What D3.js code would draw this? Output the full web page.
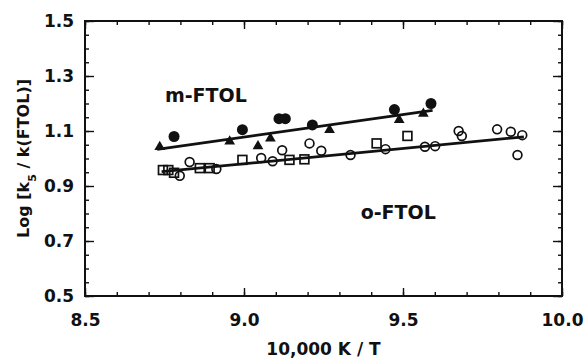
<!DOCTYPE html>
<html>
<head>
<meta charset="utf-8">
<script src="https://cdn.jsdelivr.net/npm/d3@7"></script>
<style>
  body { margin: 0; background: #fff; }
  text { font-family: "DejaVu Sans", sans-serif; font-weight: bold; fill: #111; }
</style>
</head>
<body>
<svg id="chart"></svg>
<script>
// values
const xTicks = [8.5, 9.0, 9.5, 10.0];
const yTicks = [0.5, 0.7, 0.9, 1.1, 1.3, 1.5];

// m-FTOL: filled circles and filled triangles
const mCircles = [[8.78, 1.08], [8.995, 1.105], [9.11, 1.145], [9.13, 1.145], [9.215, 1.122], [9.473, 1.178], [9.588, 1.2]];
const mTriangles = [[8.735, 1.042], [8.955, 1.062], [9.044, 1.045], [9.083, 1.073], [9.269, 1.104], [9.488, 1.14], [9.564, 1.163]];
const mFit = [[8.727, 1.033], [9.593, 1.175]];

// o-FTOL: open circles and open squares
const oCircles = [[8.798, 0.937], [8.829, 0.987], [8.913, 0.962], [9.054, 1.002], [9.09, 0.99], [9.12, 1.03], [9.206, 1.055],
  [9.243, 1.028], [9.335, 1.013], [9.445, 1.034], [9.569, 1.043], [9.601, 1.045], [9.675, 1.1], [9.685, 1.082],
  [9.796, 1.106], [9.839, 1.097], [9.875, 1.085], [9.86, 1.013]];
const oSquares = [[8.745, 0.958], [8.762, 0.958], [8.78, 0.948], [8.861, 0.965], [8.892, 0.965], [8.995, 0.995],
  [9.143, 0.995], [9.19, 0.997], [9.417, 1.055], [9.514, 1.082]];
const oFit = [[8.741, 0.952], [9.88, 1.079]];

const labels = [{ text: 'm-FTOL', x: 8.88, y: 1.205 }, { text: 'o-FTOL', x: 9.485, y: 0.78 }];

const width = 586;
const height = 360;

const svg = d3.select('#chart').attr('width', width).attr('height', height);

const x = d3.scaleLinear().domain([8.5, 10.0]).range([85, 562]);
const y = d3.scaleLinear().domain([0.5, 1.5]).range([296, 21]);

const ink = '#111';
const xMinor = d3.range(8.5, 10.001, 0.1);
const yMinor = d3.range(0.5, 1.501, 0.05);

// inward ticks on all four sides
function tickAxis(axis, pos, vals, size) {
  svg.append('g')
    .attr('transform', pos)
    .call(axis.tickValues(vals).tickSize(-size).tickFormat(''))
    .call(g => g.select('.domain').remove())
    .selectAll('line').attr('stroke', ink).attr('stroke-width', 1.4);
}
tickAxis(d3.axisBottom(x), `translate(0,${y(0.5)})`, xMinor, 4);
tickAxis(d3.axisBottom(x), `translate(0,${y(0.5)})`, xTicks, 8);
tickAxis(d3.axisTop(x), `translate(0,${y(1.5)})`, xMinor, 4);
tickAxis(d3.axisTop(x), `translate(0,${y(1.5)})`, xTicks, 8);
tickAxis(d3.axisLeft(y), `translate(${x(8.5)},0)`, yMinor, 4);
tickAxis(d3.axisLeft(y), `translate(${x(8.5)},0)`, yTicks, 9);
tickAxis(d3.axisRight(y), `translate(${x(10)},0)`, yMinor, 4);
tickAxis(d3.axisRight(y), `translate(${x(10)},0)`, yTicks, 9);

// tick labels
svg.append('g')
  .attr('transform', `translate(0,${y(0.5)})`)
  .call(d3.axisBottom(x).tickValues(xTicks).tickSize(0).tickPadding(18).tickFormat(d3.format('.1f')))
  .call(g => g.select('.domain').remove())
  .selectAll('text').style('font-size', '17px').style('font-family', '"DejaVu Sans", sans-serif').style('font-weight', 'bold').attr('fill', ink);

svg.append('g')
  .attr('transform', `translate(${x(8.5)},0)`)
  .call(d3.axisLeft(y).tickValues(yTicks).tickSize(0).tickPadding(11).tickFormat(d3.format('.1f')))
  .call(g => g.select('.domain').remove())
  .selectAll('text').style('font-size', '17px').style('font-family', '"DejaVu Sans", sans-serif').style('font-weight', 'bold').attr('fill', ink);

// frame
svg.append('rect')
  .attr('x', x(8.5)).attr('y', y(1.5))
  .attr('width', x(10) - x(8.5)).attr('height', y(0.5) - y(1.5))
  .attr('fill', 'none').attr('stroke', ink).attr('stroke-width', 2);

// fit lines
const line = d3.line().x(d => x(d[0])).y(d => y(d[1]));
[mFit, oFit].forEach(f => {
  svg.append('path').attr('d', line(f)).attr('fill', 'none').attr('stroke', ink).attr('stroke-width', 2.8);
});

// markers
svg.selectAll('.mcirc').data(mCircles).enter().append('circle')
  .attr('cx', d => x(d[0])).attr('cy', d => y(d[1])).attr('r', 5.5).attr('fill', ink);

svg.selectAll('.mtri').data(mTriangles).enter().append('path')
  .attr('d', d3.symbol(d3.symbolTriangle, 50))
  .attr('transform', d => `translate(${x(d[0])},${y(d[1])})`)
  .attr('fill', ink);

svg.selectAll('.ocirc').data(oCircles).enter().append('circle')
  .attr('cx', d => x(d[0])).attr('cy', d => y(d[1])).attr('r', 4.4)
  .attr('fill', 'none').attr('stroke', ink).attr('stroke-width', 1.7);

svg.selectAll('.osq').data(oSquares).enter().append('rect')
  .attr('x', d => x(d[0]) - 4.4).attr('y', d => y(d[1]) - 4.4)
  .attr('width', 8.8).attr('height', 8.8)
  .attr('fill', 'none').attr('stroke', ink).attr('stroke-width', 1.7);

// series labels
svg.selectAll('.lab').data(labels).enter().append('text')
  .attr('x', d => x(d.x)).attr('y', d => y(d.y))
  .attr('text-anchor', 'middle')
  .style('font-size', '19px')
  .text(d => d.text);

// axis titles
svg.append('text')
  .attr('x', (x(8.5) + x(10)) / 2).attr('y', 355)
  .attr('text-anchor', 'middle')
  .style('font-size', '17px')
  .text('10,000 K / T');

const yTitle = svg.append('text')
  .attr('transform', `translate(29,${(y(0.5) + y(1.5)) / 2}) rotate(-90)`)
  .attr('text-anchor', 'middle')
  .style('font-size', '16px');
yTitle.append('tspan').text('Log [k');
yTitle.append('tspan').attr('baseline-shift', 'sub').style('font-size', '11px').text('5');
yTitle.append('tspan').text(' / k(FTOL)]');
</script>
</body>
</html>
